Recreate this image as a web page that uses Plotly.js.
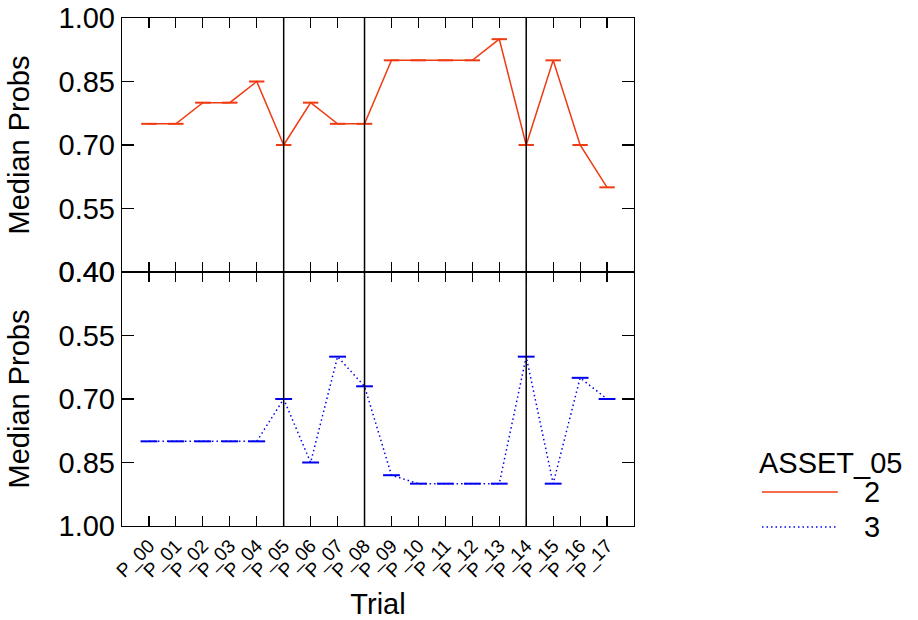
<!DOCTYPE html>
<html>
<head>
<meta charset="utf-8">
<script src="https://cdn.plot.ly/plotly-3.0.1.min.js"></script>
<style>html,body{margin:0;padding:0;background:#fff;}#chart{width:918px;height:620px;}</style>
</head>
<body>
<div id="chart"></div>
<script>
// ---- data ----
const trials = ['P_00','P_01','P_02','P_03','P_04','P_05','P_06','P_07','P_08','P_09','P_10','P_11','P_12','P_13','P_14','P_15','P_16','P_17'];
const asset2 = [0.75,0.75,0.80,0.80,0.85,0.70,0.80,0.75,0.75,0.90,0.90,0.90,0.90,0.95,0.70,0.90,0.70,0.60];
const asset3 = [0.80,0.80,0.80,0.80,0.80,0.70,0.85,0.60,0.67,0.88,0.90,0.90,0.90,0.90,0.60,0.90,0.65,0.70];
const seriesNames = ['2','3'];
const legendTitle = 'ASSET_05';
const refTrials = ['P_05','P_08','P_14'];
const yTicks = [0.40,0.55,0.70,0.85,1.00];

const red = '#EE3B12';
const blue = '#0000F0';
const FONT = 'Liberation Sans, Arial, sans-serif';

const traces = [
  {x: trials, y: asset2, xaxis: 'x2', yaxis: 'y2', type: 'scatter', mode: 'lines+markers',
   name: seriesNames[0], showlegend: false,
   line: {color: red, width: 1.5},
   marker: {symbol: 'line-ew', size: 11, color: red, line: {color: red, width: 2}}},
  {x: trials, y: asset3, xaxis: 'x', yaxis: 'y', type: 'scatter', mode: 'lines+markers',
   name: seriesNames[1], showlegend: false,
   line: {color: blue, width: 1.5, dash: '1.5px,3px'},
   marker: {symbol: 'line-ew', size: 12, color: blue, line: {color: blue, width: 2}}}
];

const axisCommon = {
  showgrid: false, zeroline: false, showline: true, linecolor: '#000', linewidth: 1.2,
  mirror: 'ticks', ticks: 'inside', tickcolor: '#000', tickwidth: 1.2
};

const shapes = refTrials.map(t => ({
  type: 'line', xref: 'x', yref: 'paper', x0: t, x1: t, y0: 0, y1: 1,
  line: {color: '#000', width: 1.5}
}));
// legend samples
shapes.push({type:'line', xref:'paper', yref:'paper', x0:1.25, x1:1.398, y0:0.067, y1:0.067, line:{color:red, width:1.5}});
shapes.push({type:'line', xref:'paper', yref:'paper', x0:1.25, x1:1.398, y0:-0.002, y1:-0.002, line:{color:blue, width:1.5, dash:'1.5px,3px'}});

const annotations = [
  {xref:'paper', yref:'paper', x:1.24, y:0.125, xanchor:'left', yanchor:'middle', text: legendTitle, showarrow:false, font:{size:29, color:'#000', family:FONT}},
  {xref:'paper', yref:'paper', x:1.445, y:0.067, xanchor:'left', yanchor:'middle', text: seriesNames[0], showarrow:false, font:{size:29, color:'#000', family:FONT}},
  {xref:'paper', yref:'paper', x:1.445, y:-0.002, xanchor:'left', yanchor:'middle', text: seriesNames[1], showarrow:false, font:{size:29, color:'#000', family:FONT}}
];

const layout = {
  width: 918, height: 620,
  margin: {l: 122, r: 284, t: 18, b: 94},
  paper_bgcolor: '#fff', plot_bgcolor: '#fff',
  font: {family: FONT, color: '#000'},
  showlegend: false,
  xaxis: Object.assign({}, axisCommon, {
    type: 'category', range: [-1, 18], anchor: 'y', ticklen: 10,
    tickangle: -45, tickfont: {size: 19},
    title: {text: 'Trial', font: {size: 29}, standoff: 12}
  }),
  xaxis2: Object.assign({}, axisCommon, {
    type: 'category', range: [-1, 18], anchor: 'y2', ticklen: 10, showticklabels: false, matches: 'x'
  }),
  yaxis: Object.assign({}, axisCommon, {
    domain: [0, 0.5], anchor: 'x', range: [1.0, 0.4], tickvals: yTicks, tickformat: '.2f',
    ticklen: 12, tickfont: {size: 29},
    title: {text: 'Median Probs', font: {size: 29}, standoff: 20}
  }),
  yaxis2: Object.assign({}, axisCommon, {
    domain: [0.5, 1], anchor: 'x2', range: [0.4, 1.0], tickvals: yTicks, tickformat: '.2f',
    ticklen: 12, tickfont: {size: 29},
    title: {text: 'Median Probs', font: {size: 29}, standoff: 20}
  }),
  shapes: shapes,
  annotations: annotations
};

Plotly.newPlot('chart', traces, layout, {displayModeBar: false, staticPlot: true});
</script>
</body>
</html>
